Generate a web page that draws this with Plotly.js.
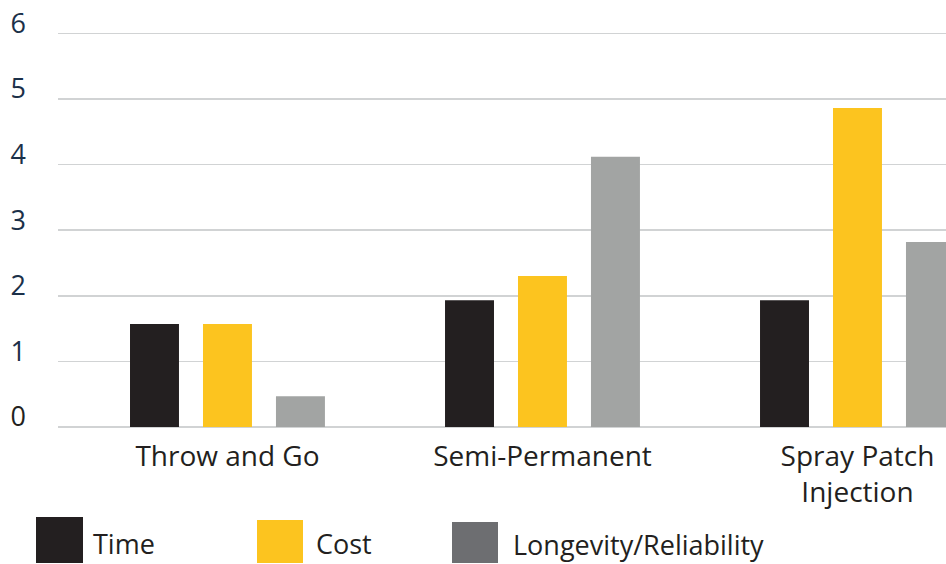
<!DOCTYPE html>
<html>
<head>
<meta charset="utf-8">
<script src="https://cdn.plot.ly/plotly-3.0.1.min.js"></script>
<style>html,body{margin:0;padding:0;background:#fff;}#chart{width:946px;height:564px;}</style>
</head>
<body>
<div id="chart"></div>
<script>
const categories = ["Throw and Go", "Semi-Permanent", "Spray Patch<br>Injection"];
const seriesNames = ["Time", "Cost", "Longevity/Reliability"];
const timeValues = [1.57, 1.93, 1.93];
const costValues = [1.57, 2.30, 4.86];
const longevityValues = [0.47, 4.12, 2.82];
const yTicks = [0, 1, 2, 3, 4, 5, 6];

const barColors = ["#231f20", "#fcc41f", "#a2a4a3"];
const legendColors = ["#231f20", "#fcc41f", "#6d6e71"];
const FONT = "Open Sans, Noto Sans, sans-serif";

const W = 946, H = 564, ML = 58, MR = 0, MT = 32, MB = 137;
const PW = W - ML - MR, PH = H - MT - MB;
const px = x => (x - ML) / PW;
const py = y => (H - MB - y) / PH;

const seriesValues = [timeValues, costValues, longevityValues];
const traces = seriesValues.map((vals, i) => ({
  type: "bar",
  name: seriesNames[i],
  x: categories,
  y: vals,
  marker: {color: barColors[i]},
  hoverinfo: "skip"
}));

// custom legend (big swatches)
const legendSpec = [
  {sx0: 36, sx1: 83, sy0: 517, sy1: 563, tx: 91, ty: 543},
  {sx0: 257, sx1: 303, sy0: 520, sy1: 563, tx: 314, ty: 543},
  {sx0: 452, sx1: 498, sy0: 522, sy1: 563, tx: 511, ty: 544}
];
const shapes = legendSpec.map((s, i) => ({
  type: "rect", xref: "paper", yref: "paper",
  x0: px(s.sx0), x1: px(s.sx1), y0: py(s.sy1), y1: py(s.sy0),
  fillcolor: legendColors[i], line: {width: 0}
}));
const annotations = legendSpec.map((s, i) => ({
  xref: "paper", yref: "paper", x: px(s.tx), y: py(s.ty),
  xanchor: "left", yanchor: "middle", showarrow: false,
  text: seriesNames[i],
  font: {family: FONT, size: 27, color: "#231f20"}
}));

const layout = {
  width: W, height: H,
  margin: {l: ML, r: MR, t: MT, b: MB, pad: 0},
  paper_bgcolor: "#ffffff", plot_bgcolor: "#ffffff",
  showlegend: false,
  barmode: "group",
  bargap: 0.305,
  bargroupgap: 0.329,
  xaxis: {
    type: "category",
    range: [-0.538, 2.281],
    showgrid: false, showline: false, ticks: "",
    tickfont: {family: FONT, size: 28, color: "#231f20"},
    ticklabelstandoff: 10,
    fixedrange: true
  },
  yaxis: {
    range: [0, 6.02],
    tickvals: yTicks,
    ticktext: yTicks.map(v => v === 0 ? '<span style="color:#231f20">0</span>' : String(v)),
    showgrid: true, gridcolor: "#d1d3d4", gridwidth: 1.5,
    zeroline: true, zerolinecolor: "#d1d3d4", zerolinewidth: 1.5,
    showline: false, ticks: "",
    tickfont: {family: FONT, size: 27, color: "#1b3049"},
    ticklabelstandoff: 31,
    ticklabelshift: -10,
    fixedrange: true
  },
  shapes: shapes,
  annotations: annotations
};

Plotly.newPlot("chart", traces, layout, {displayModeBar: false, staticPlot: true});
</script>
</body>
</html>
